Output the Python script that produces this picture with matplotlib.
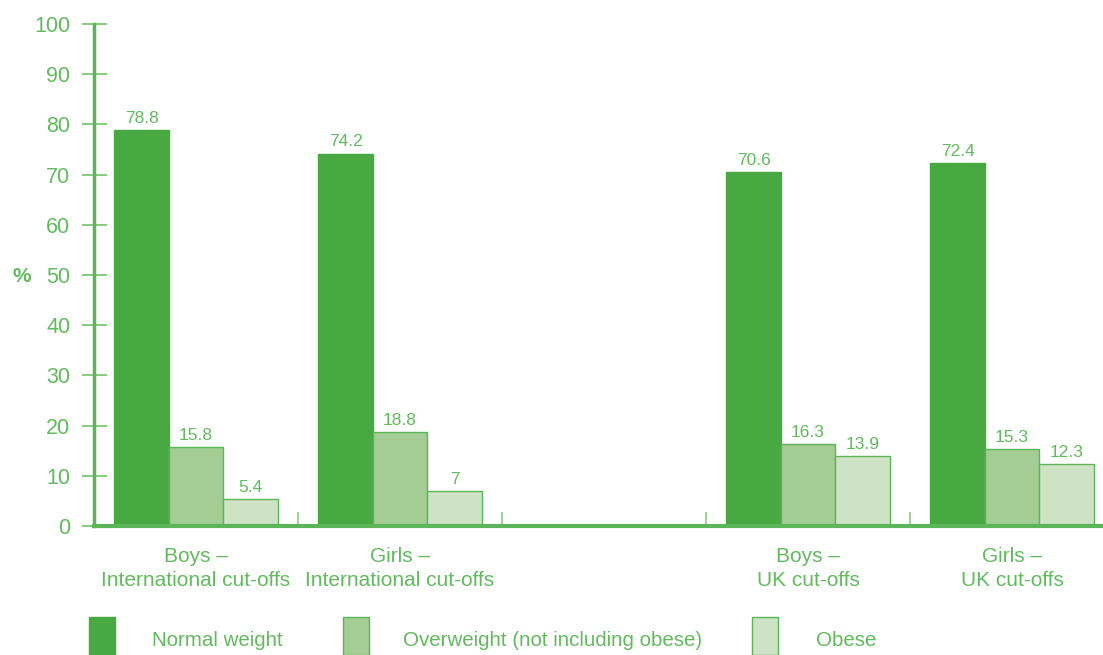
import matplotlib
matplotlib.use("Agg")
import matplotlib.pyplot as plt
from matplotlib.patches import Rectangle
import numpy as np

categories = ["Boys –\nInternational cut-offs", "Girls –\nInternational cut-offs", "",
              "Boys –\nUK cut-offs", "Girls –\nUK cut-offs"]
normal = [78.8, 74.2, None, 70.6, 72.4]
overweight = [15.8, 18.8, None, 16.3, 15.3]
obese = [5.4, 7, None, 13.9, 12.3]
series_names = ["Normal weight", "Overweight (not including obese)", "Obese"]
yticks = [0, 10, 20, 30, 40, 50, 60, 70, 80, 90, 100]

c_dark = "#48A842"
c_mid = "#A3CD94"
c_light = "#CEE2C6"
c_edge = "#5DB55A"
c_text = "#62BA5E"
c_tick = "#8CCB83"

plt.rcParams['font.family'] = ['Liberation Sans', 'DejaVu Sans']

fig = plt.figure(figsize=(11.03, 6.55), dpi=100)
W, H = 1103, 655
ax = fig.add_axes([94 / W, (655 - 526) / H, (1114 - 94) / W, (526 - 24) / H])

x = np.arange(len(categories))
bw = 0.267
cols = [c_dark, c_mid, c_light]
for i, (vals, col) in enumerate(zip([normal, overweight, obese], cols)):
    for xi, v in zip(x, vals):
        if v is None:
            continue
        xc = xi + (i - 1) * bw
        ax.bar(xc, v, width=bw, color=col,
               edgecolor=(col if i == 0 else c_edge), linewidth=1.0, zorder=2)
        lab = ("%g" % v)
        ax.text(xc, v + 0.8, lab, ha="center", va="bottom", fontsize=12.5,
                color=c_text)

ax.set_xlim(-0.5, len(categories) - 0.5)
ax.set_ylim(0, 100)
ax.set_yticks(yticks)
ax.set_yticklabels([str(t) for t in yticks], fontsize=15.5, color=c_text)
ax.tick_params(axis="y", direction="inout", length=18, width=1.5, color=c_tick, pad=8)
ax.set_xticks(x)
ax.set_xticklabels(categories, fontsize=15, color=c_text, linespacing=1.35)
ax.tick_params(axis="x", length=0, pad=15)
ax.set_xticks(np.arange(len(categories) - 1) + 0.5, minor=True)
ax.tick_params(axis="x", which="minor", direction="in", length=10, width=1.2, color=c_tick)

for s in ["top", "right"]:
    ax.spines[s].set_visible(False)
ax.spines["left"].set_color(c_edge)
ax.spines["left"].set_linewidth(2.5)
ax.spines["bottom"].set_color(c_edge)
ax.spines["bottom"].set_linewidth(3)

fig.text(22 / W, 1 - 276 / H, "%", fontsize=15, color=c_text, ha="center",
         va="center", fontweight="bold")

# legend
leg_x = [89, 343, 752]
txt_x = [152, 403, 816]
for lx, tx, col, name in zip(leg_x, txt_x, cols, series_names):
    fig.patches.append(Rectangle((lx / W, 0), 26 / W, 38 / H, transform=fig.transFigure,
                                 facecolor=col, edgecolor=(col if col == c_dark else c_edge),
                                 linewidth=1.0))
    fig.text(tx / W, 1 - 641 / H, name, fontsize=14.8, color=c_text, ha="left", va="center")

fig.savefig("out.png", dpi=100)
